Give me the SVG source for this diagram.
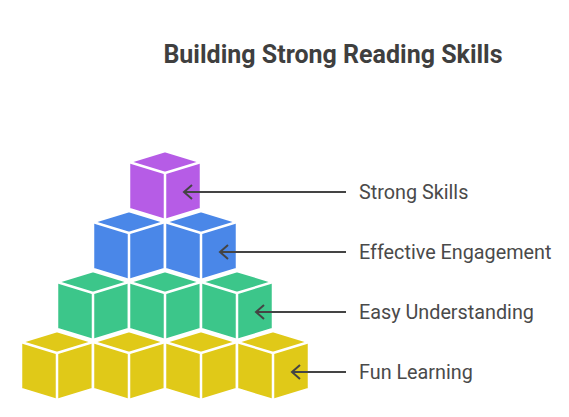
<svg xmlns="http://www.w3.org/2000/svg" xmlns:xlink="http://www.w3.org/1999/xlink" width="569" height="417" viewBox="0 0 569 417">
<style>
.title{font-family:Roboto,"Liberation Sans",sans-serif;font-weight:bold;font-size:25px;fill:#3f3f3f}
.label{font-family:Roboto,"Liberation Sans",sans-serif;font-size:19.8px;fill:#4a4a4a}
.conn{stroke:#444444;stroke-width:2;fill:none}
.face{stroke:#ffffff;stroke-width:2.5;stroke-linejoin:round}
.purple{color:#B65CE6}.blue{color:#4A87E8}.green{color:#3CC68A}.yellow{color:#E0C918}
</style>
<defs>
<g id="cube">
<path class="face" d="M0,0 L36,11 L36,58 L0,69 L-36,58 L-36,11 Z" fill="currentColor"/>
<path class="face" d="M-36,11 L0,22 L36,11 M0,22 L0,69" fill="none"/>
</g>
<marker id="head" markerWidth="12" markerHeight="18" refX="9" refY="8" orient="auto" markerUnits="userSpaceOnUse">
<path d="M1,1 L9,8 L1,15" fill="none" stroke="#444444" stroke-width="2"/>
</marker>
</defs>
<text class="title" x="333" y="63" text-anchor="middle">Building Strong Reading Skills</text>
<g id="row-fun-learning" class="yellow">
<use xlink:href="#cube" x="57" y="331"/>
<use xlink:href="#cube" x="129" y="331"/>
<use xlink:href="#cube" x="201" y="331"/>
<use xlink:href="#cube" x="273" y="331"/>
</g>
<g id="row-easy-understanding" class="green">
<use xlink:href="#cube" x="93" y="271"/>
<use xlink:href="#cube" x="165" y="271"/>
<use xlink:href="#cube" x="237" y="271"/>
</g>
<g id="row-effective-engagement" class="blue">
<use xlink:href="#cube" x="129" y="211"/>
<use xlink:href="#cube" x="201" y="211"/>
</g>
<g id="row-strong-skills" class="purple">
<use xlink:href="#cube" x="165" y="151"/>
</g>
<g id="connectors">
<path class="conn" d="M346,192 L184,192" marker-end="url(#head)"/>
<path class="conn" d="M346,252 L220,252" marker-end="url(#head)"/>
<path class="conn" d="M346,312 L256,312" marker-end="url(#head)"/>
<path class="conn" d="M346,372 L292,372" marker-end="url(#head)"/>
</g>
<g id="labels">
<text class="label" x="359" y="199">Strong Skills</text>
<text class="label" x="359" y="259">Effective Engagement</text>
<text class="label" x="359" y="319">Easy Understanding</text>
<text class="label" x="359" y="379">Fun Learning</text>
</g>
</svg>
